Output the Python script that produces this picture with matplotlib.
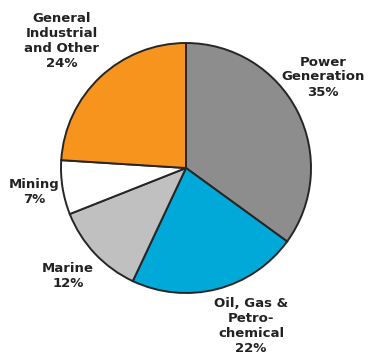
import matplotlib.pyplot as plt

sectors = ['Power\nGeneration', 'Oil, Gas &\nPetro-\nchemical', 'Marine', 'Mining',
           'General\nIndustrial\nand Other']
shares = [35, 22, 12, 7, 24]
colors = ['#8d8d8d', '#00a9d8', '#c0c0c0', '#ffffff', '#f7941d']

# label anchor points in figure pixels (x, y from top)
label_pos = [(323, 77), (251, 326), (68, 276), (34, 192), (62, 41)]

W, H = 368, 356
fig = plt.figure(figsize=(W / 100, H / 100), dpi=100)
ax = fig.add_axes([0, 0, 1, 1])

ax.pie(shares, colors=colors, startangle=90, counterclock=False,
       center=(186, H - 168), radius=125, frame=True,
       wedgeprops=dict(edgecolor='#262626', linewidth=1.4))
ax.set_xlim(0, W)
ax.set_ylim(0, H)
ax.set_aspect('equal')
ax.axis('off')

for name, val, (x, y) in zip(sectors, shares, label_pos):
    ax.text(x, H - y, f'{name}\n{val}%', ha='center', va='center',
            fontsize=9.5, fontweight='bold', color='#222222', linespacing=1.2,
            family='DejaVu Sans')

fig.savefig('out.png', dpi=100)
